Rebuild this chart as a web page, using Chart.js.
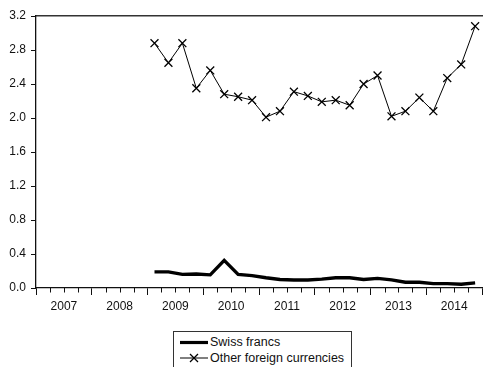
<!DOCTYPE html>
<html>
<head>
<meta charset="utf-8">
<script src="https://cdn.jsdelivr.net/npm/chart.js@4/dist/chart.umd.min.js"></script>
<style>
  html, body { margin: 0; padding: 0; background: #fff; overflow: hidden; }
  #wrap { position: relative; width: 489px; height: 367px; }
  #legend {
    position: absolute; left: 173px; top: 331px; width: 179px; height: 40px;
    border: 1px solid #333; box-sizing: border-box; background: #fff;
    font: 12.5px "Liberation Sans", Arial, sans-serif; color: #111;
  }
  #legend .row { position: absolute; left: 0; height: 16px; width: 100%; }
  #legend svg { position: absolute; left: 6px; top: 0; }
  #legend span { position: absolute; left: 36px; top: 1px; line-height: 14px; white-space: nowrap; }
</style>
</head>
<body>
<div id="wrap">
  <canvas id="chart" width="489" height="367"></canvas>
  <div id="legend">
    <div class="row" style="top:2px">
      <svg width="28" height="16"><line x1="0" y1="8.5" x2="28" y2="8.5" stroke="#000" stroke-width="3.2"/></svg>
      <span>Swiss francs</span>
    </div>
    <div class="row" style="top:18px">
      <svg width="28" height="16"><line x1="0" y1="8" x2="28" y2="8" stroke="#000" stroke-width="1"/>
        <line x1="10" y1="4" x2="18" y2="12" stroke="#000" stroke-width="1.2"/>
        <line x1="10" y1="12" x2="18" y2="4" stroke="#000" stroke-width="1.2"/></svg>
      <span>Other foreign currencies</span>
    </div>
  </div>
</div>
<script>
// Year labels along the bottom axis (each year spans four quarters)
const years = ['2007', '2008', '2009', '2010', '2011', '2012', '2013', '2014'];

// Quarterly observations, 2009 Q1 to 2014 Q4
const quarters = [
  '2009Q1', '2009Q2', '2009Q3', '2009Q4',
  '2010Q1', '2010Q2', '2010Q3', '2010Q4',
  '2011Q1', '2011Q2', '2011Q3', '2011Q4',
  '2012Q1', '2012Q2', '2012Q3', '2012Q4',
  '2013Q1', '2013Q2', '2013Q3', '2013Q4',
  '2014Q1', '2014Q2', '2014Q3', '2014Q4'
];

const swissFrancs = [
  0.19, 0.19, 0.16, 0.165, 0.155, 0.325, 0.16, 0.145,
  0.12, 0.10, 0.095, 0.095, 0.105, 0.12, 0.12, 0.10,
  0.113, 0.095, 0.068, 0.068, 0.052, 0.052, 0.045, 0.06
];

const otherCurrencies = [
  2.88, 2.65, 2.88, 2.35, 2.56, 2.28, 2.25, 2.21,
  2.01, 2.08, 2.31, 2.26, 2.19, 2.21, 2.15, 2.40,
  2.50, 2.02, 2.08, 2.24, 2.08, 2.47, 2.63, 3.08
];

const yTicks = [0, 0.4, 0.8, 1.2, 1.6, 2.0, 2.4, 2.8, 3.2];

// Position of a quarter on the time axis: quarters are counted from the first year,
// and each observation sits at the middle of its quarter.
const firstYear = Number(years[0]);
function quarterPos(label) {
  const y = Number(label.slice(0, 4));
  const q = Number(label.slice(5));
  return (y - firstYear) * 4 + (q - 1) + 0.5;
}
const totalQuarters = years.length * 4;

const toPoints = (vals) => vals.map((v, i) => ({ x: quarterPos(quarters[i]), y: v }));

Chart.defaults.font.family = '"Liberation Sans", Arial, sans-serif';
Chart.defaults.font.size = 12;
Chart.defaults.color = '#111';

// Short quarter ticks between the longer year ticks
const minorTicks = {
  id: 'minorTicks',
  afterDraw(chart) {
    const s = chart.scales.x;
    const ctx = chart.ctx;
    ctx.save();
    ctx.strokeStyle = '#111';
    ctx.lineWidth = 1;
    ctx.beginPath();
    for (let i = 0; i <= totalQuarters; i++) {
      if (i % 4 === 0) continue;
      const px = Math.round(s.getPixelForValue(i)) + 0.5;
      ctx.moveTo(px, s.top);
      ctx.lineTo(px, s.top + 4.5);
    }
    ctx.stroke();
    ctx.restore();
  }
};

new Chart(document.getElementById('chart'), {
  type: 'line',
  data: {
    datasets: [
      {
        label: 'Swiss francs',
        data: toPoints(swissFrancs),
        borderColor: '#000',
        borderWidth: 3.4,
        pointRadius: 0,
        tension: 0,
        fill: false
      },
      {
        label: 'Other foreign currencies',
        data: toPoints(otherCurrencies),
        borderColor: '#000',
        borderWidth: 1,
        pointStyle: 'crossRot',
        pointRadius: 5.6,
        pointBorderWidth: 1.3,
        pointBorderColor: '#000',
        tension: 0,
        fill: false
      }
    ]
  },
  options: {
    responsive: false,
    animation: false,
    layout: { padding: { top: 16, right: 0, bottom: 49, left: 0 } },
    plugins: { legend: { display: false }, tooltip: { enabled: false } },
    scales: {
      x: {
        type: 'linear',
        position: 'bottom',
        min: 0,
        max: totalQuarters,
        afterBuildTicks: (s) => {
          s.ticks = [];
          for (let i = 0; i <= totalQuarters; i++) s.ticks.push({ value: i });
        },
        afterFit: (s) => { s.height = 30; },
        ticks: {
          autoSkip: false,
          maxRotation: 0,
          padding: 4,
          callback: (v) => (v % 4 === 2 ? years[(v - 2) / 4] : '')
        },
        grid: {
          drawOnChartArea: false,
          drawTicks: true,
          tickLength: 7,
          tickWidth: 1,
          tickColor: (c) => (c.tick && c.tick.value % 4 === 0 ? '#111' : 'rgba(0,0,0,0)')
        },
        border: { display: true, color: '#111', width: 1.3 }
      },
      xTop: {
        type: 'linear',
        position: 'top',
        min: 0,
        max: totalQuarters,
        afterFit: (s) => { s.height = 0; },
        ticks: { display: false },
        grid: { drawOnChartArea: false, drawTicks: false },
        border: { display: true, color: '#333', width: 1.6 }
      },
      y: {
        type: 'linear',
        position: 'left',
        min: 0,
        max: 3.2,
        afterBuildTicks: (s) => { s.ticks = yTicks.map((v) => ({ value: v })); },
        afterFit: (s) => { s.width = 36; },
        ticks: {
          padding: 5,
          callback: (v) => Number(v).toFixed(1)
        },
        grid: {
          drawOnChartArea: false,
          drawTicks: true,
          tickLength: 5,
          tickColor: '#111'
        },
        border: { display: true, color: '#111', width: 1.3 }
      }
    }
  },
  plugins: [minorTicks]
});
</script>
</body>
</html>
